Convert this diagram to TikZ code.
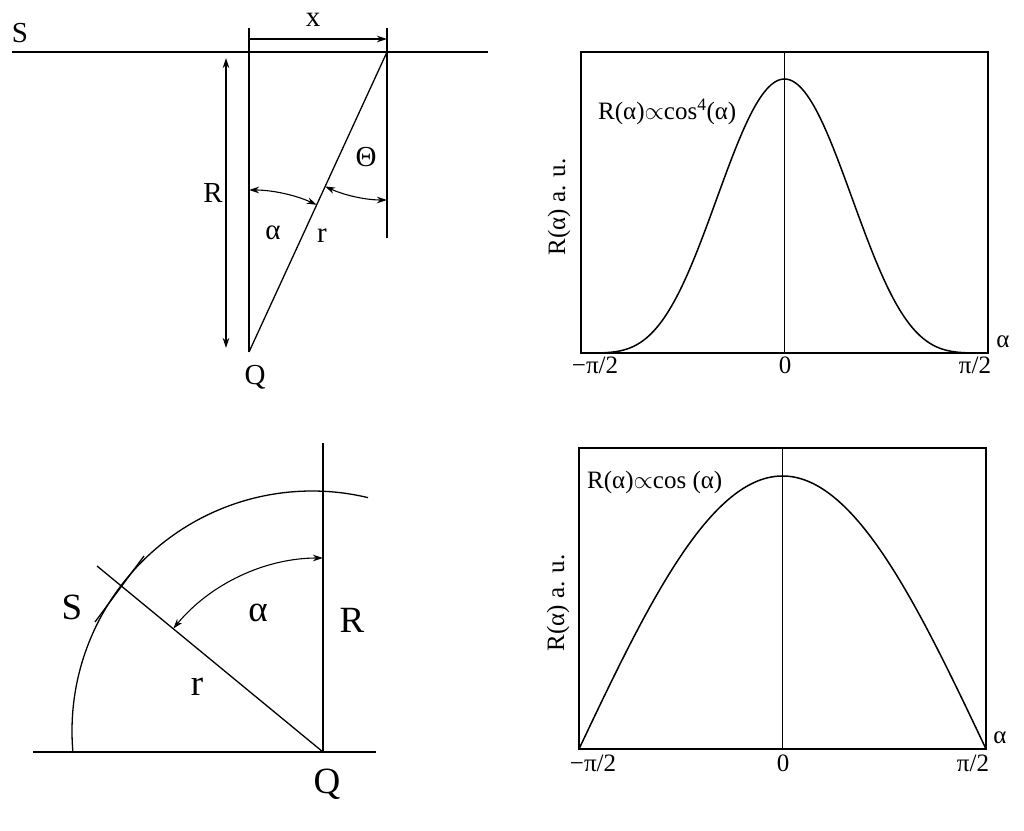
\documentclass[tikz,border=0pt]{standalone}
\usepackage{fontspec}
\setmainfont{Liberation Serif}
\usetikzlibrary{arrows.meta}
\begin{document}
\begin{tikzpicture}[x=1pt,y=1pt,
  ln/.style={line width=1.3pt},
  thick line/.style={line width=2pt},
  dimarr/.style={line width=1.1pt,{Stealth[length=10pt,width=6.5pt]}-{Stealth[length=10pt,width=6.5pt]}},
  dimend/.style={line width=1.1pt,-{Stealth[length=10pt,width=6.5pt]}},
  lblA/.style={inner sep=0pt,font=\fontsize{29}{31}\selectfont},
  lblB/.style={inner sep=0pt,font=\fontsize{37}{39}\selectfont},
  lblP/.style={inner sep=0pt,font=\fontsize{25}{27}\selectfont},
  axbox/.style={line width=2.2pt},
  zeroline/.style={line width=1.5pt},
  curve/.style={line width=1.5pt}]
\useasboundingbox (0,0) rectangle (1024,830);

% ---------- top left ----------
\coordinate (L1) at (12,778);
\coordinate (L2) at (488,778);
\coordinate (T) at (387,778);
\coordinate (Q1) at (249,478);
\coordinate (V1top) at (249,802);
\coordinate (V2top) at (387,802);
\coordinate (V2bot) at (387,592);
\coordinate (Xa) at (249,791);
\coordinate (Xb) at (387,791);
\coordinate (Ra) at (226,772);
\coordinate (Rb) at (226,482);
\draw[thick line] (L1) -- (L2);
\draw[ln] (V1top) -- (Q1);
\draw[ln] (V2top) -- (V2bot);
\draw[ln] (T) -- (Q1);
\draw[dimend] (Xa) -- (Xb);
\draw[dimarr] (Ra) -- (Rb);
\draw[dimarr] ([shift={(90:162)}]Q1) arc[start angle=90,end angle=65.3,radius=162];
\draw[dimarr] ([shift={(245.3:148)}]T) arc[start angle=245.3,end angle=270,radius=148];
\node[lblA] (s1) at (20,797) {S};
\node[lblA] (x1) at (313,810) {x};
\node[lblA] (r1) at (213,637) {R};
\node[lblA] (th1) at (366,673) {Θ};
\node[lblA] (a1) at (273,597) {α};
\node[lblA] (rr1) at (322,594) {r};
\node[lblA] (q1) at (255,453) {Q};

% ---------- top right plot ----------
\draw[axbox] (581,477) rectangle (988,778);
\draw[zeroline] (784.5,477) -- (784.5,778);
\draw[curve] plot[domain=-90:90,samples=181,smooth] ({784.5+\x/90*203.5},{477+274*pow(cos(\x),4)});
\node[lblP,anchor=west] (f1) at (598,718) {R(α)$\propto$cos\textsuperscript{4}(α)};
\node[lblP,rotate=90] (y1) at (559,623) {R(α) a. u.};
\node[lblP] (t11) at (595,465) {−π/2};
\node[lblP] (t12) at (785,465) {0};
\node[lblP] (t13) at (975,465) {π/2};
\node[lblP] (al1) at (1003,488) {α};

% ---------- bottom right plot ----------
\draw[axbox] (579,81) rectangle (986,382);
\draw[zeroline] (782.5,81) -- (782.5,382);
\draw[curve] plot[domain=-90:90,samples=181,smooth] ({782.5+\x/90*203.5},{81+273*cos(\x)});
\node[lblP,anchor=west] (f2) at (587,348) {R(α)$\propto$cos (α)};
\node[lblP,rotate=90] (y2) at (558,227) {R(α) a. u.};
\node[lblP] (t21) at (593,67) {−π/2};
\node[lblP] (t22) at (783,67) {0};
\node[lblP] (t23) at (973,67) {π/2};
\node[lblP] (al2) at (1000,92) {α};

% ---------- bottom left ----------
\coordinate (Q2) at (323,78);
\coordinate (H1) at (33,78);
\coordinate (H2) at (376,78);
\coordinate (Vt) at (323,387);
\coordinate (C) at (312,99);
\coordinate (Rend) at (97,264);
\coordinate (Ta) at (95,208);
\coordinate (Tb) at (144,274);
\draw[thick line] (H1) -- (H2);
\draw[ln] (Vt) -- (Q2);
\draw[ln] ([shift={(76.5:240)}]C) arc[start angle=76.5,end angle=185,radius=240];
\draw[ln] (Q2) -- (Rend);
\draw[ln] (Ta) -- (Tb);
\draw[dimarr] ([shift={(90:194)}]Q2) arc[start angle=90,end angle=140.5,radius=194];
\node[lblB] (s2) at (72,223) {S};
\node[lblB] (a2) at (258,217) {α};
\node[lblB] (r2) at (352,210) {R};
\node[lblB] (rr2) at (197,143) {r};
\node[lblB] (q2) at (327,46) {Q};
\end{tikzpicture}
\end{document}
